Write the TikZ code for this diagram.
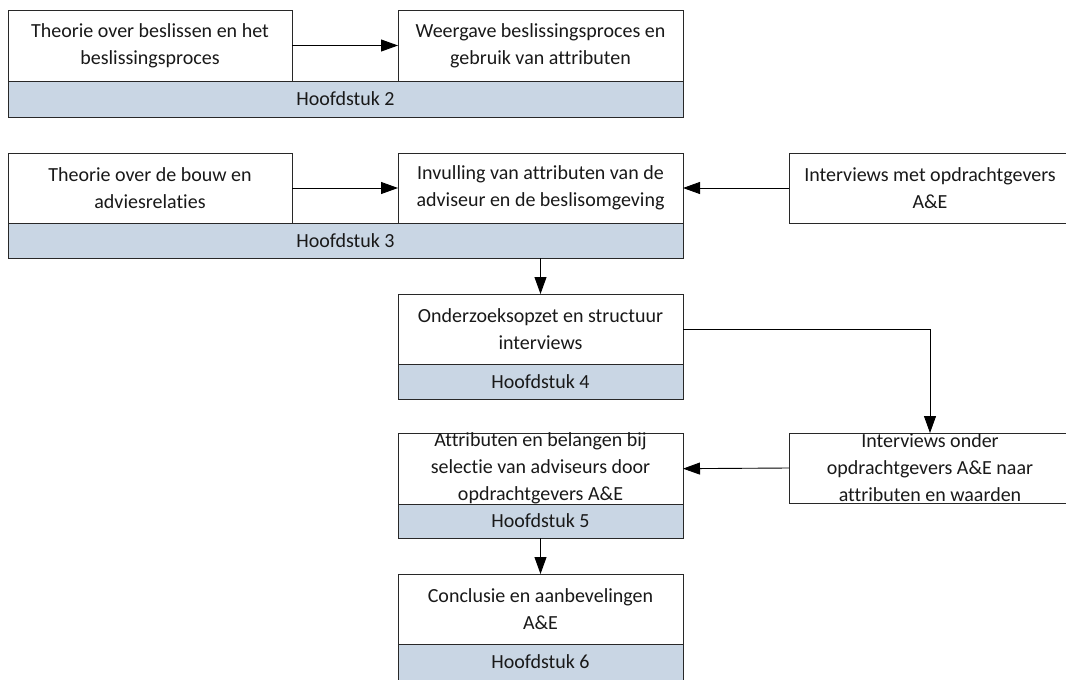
\documentclass[tikz,border=0pt]{standalone}
\usepackage{fontspec}
\setmainfont{Carlito}[Ligatures=NoCommon]
\usetikzlibrary{arrows.meta}
\definecolor{barblue}{RGB}{201,214,228}
\definecolor{edge}{RGB}{40,40,40}
\tikzset{
  box/.style={draw=edge, fill=white, line width=0.9pt, inner sep=0pt, outer sep=0pt,
    anchor=north west, align=center, text=black!90,
    font=\fontsize{20}{27}\selectfont},
  bar/.style={box, fill=barblue},
  arr/.style={draw=black, line width=0.9pt, -{Triangle[length=17pt,width=12pt]}}
}
\begin{document}
\begin{tikzpicture}[x=1pt,y=-1pt]
\useasboundingbox (0,0) rectangle (1066,680);
\clip (0,0) rectangle (1066,680);
% chapter 2
\node[bar, minimum width=675pt, minimum height=36pt] (bar2) at (8,81) {Hoofdstuk 2};
\node[box, minimum width=284pt, minimum height=71pt] (a1) at (8,10) {Theorie over beslissen en het\\beslissingsproces};
\node[box, minimum width=285pt, minimum height=71pt] (a2) at (398,10) {Weergave beslissingsproces en\\gebruik van attributen};
% chapter 3
\node[bar, minimum width=675pt, minimum height=35pt] (bar3) at (8,223) {Hoofdstuk 3};
\node[box, minimum width=284pt, minimum height=70pt] (b1) at (8,153) {Theorie over de bouw en\\adviesrelaties};
\node[box, minimum width=285pt, minimum height=70pt] (b2) at (398,153) {Invulling van attributen van de\\adviseur en de beslisomgeving};
\node[box, minimum width=282pt, minimum height=70pt] (b3) at (789,153) {Interviews met opdrachtgevers\\A\&E};
% chapter 4
\node[bar, minimum width=285pt, minimum height=35pt] (bar4) at (398,364) {Hoofdstuk 4};
\node[box, minimum width=285pt, minimum height=70pt] (c) at (398,294) {Onderzoeksopzet en structuur\\interviews};
% interviews
\node[box, minimum width=282pt, minimum height=70pt] (e) at (789,433) {Interviews onder\\opdrachtgevers A\&E naar\\attributen en waarden};
% chapter 5
\node[bar, minimum width=285pt, minimum height=35pt] (bar5) at (398,503) {Hoofdstuk 5};
\node[box, minimum width=285pt, minimum height=70pt] (d) at (398,433) {Attributen en belangen bij\\selectie van adviseurs door\\opdrachtgevers A\&E};
% chapter 6
\node[bar, minimum width=285pt, minimum height=36pt] (bar6) at (398,644) {Hoofdstuk 6};
\node[box, minimum width=285pt, minimum height=70pt] (f) at (398,574) {Conclusie en aanbevelingen\\A\&E};
% connectors
\draw[arr] (a1.east) -- (a2.west);
\draw[arr] (b1.east) -- (b2.west);
\draw[arr] (b3.west) -- (b2.east);
\draw[arr] (c.north |- bar3.south) -- (c.north);
\draw[arr] (c.east) -| (e.north);
\draw[arr] (e.west) -- (d.east);
\draw[arr] (bar5.south) -- (f.north);
\end{tikzpicture}
\end{document}
